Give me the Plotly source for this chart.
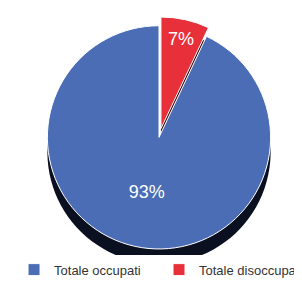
import plotly.graph_objects as go

labels = ["Totale occupati", "Totale disoccupati"]
values = [93, 7]
colors = ["#4a6db5", "#e8303a"]
pulls = [0, 0.08]

fig = go.Figure()

# dark "depth" layer behind the pie to mimic the 3D side
fig.add_trace(go.Pie(
    labels=labels, values=values, pull=pulls,
    marker=dict(colors=["#0b1020", "#3a0505"], line=dict(width=0)),
    direction="clockwise", rotation=25.2, sort=False,
    textinfo="none", hoverinfo="skip", showlegend=False,
    domain=dict(x=[0, 1], y=[0.1, 0.92]),
))

fig.add_trace(go.Pie(
    labels=labels, values=values, pull=pulls,
    marker=dict(colors=colors, line=dict(color="white", width=1)),
    direction="clockwise", rotation=25.2, sort=False,
    textinfo="percent", textposition="inside",
    insidetextfont=dict(color="white", size=18, family="Liberation Sans"),
    domain=dict(x=[0, 1], y=[0.15, 0.97]),
))

fig.update_layout(
    width=302, height=294,
    margin=dict(l=0, r=0, t=0, b=0),
    paper_bgcolor="white",
    showlegend=True,
    legend=dict(
        orientation="h", x=0.02, xanchor="left", y=0.11, yanchor="middle",
        entrywidth=0.48, entrywidthmode="fraction",
        font=dict(family="Liberation Sans", size=13, color="#333"),
    ),
)

fig.write_html("out.html")
